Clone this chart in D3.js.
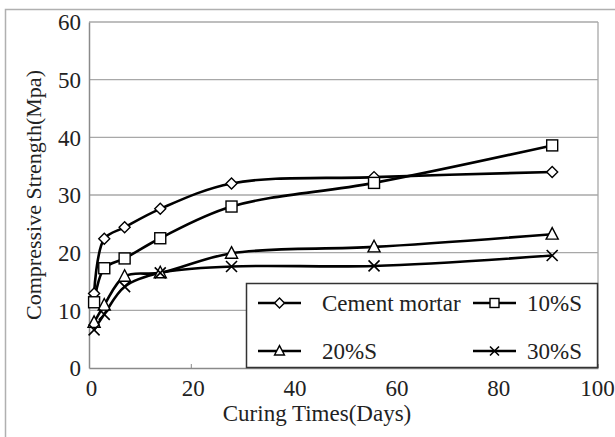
<!DOCTYPE html>
<html>
<head>
<meta charset="utf-8">
<script src="https://cdn.jsdelivr.net/npm/d3@7"></script>
<style>
  body { margin: 0; background: #fff; }
  svg { display: block; font-family: "Liberation Serif", "Times New Roman", serif; }
</style>
</head>
<body>
<svg id="chart"></svg>
<script>
// curing days and strength values (MPa)
const days = [1, 3, 7, 14, 28, 56, 91];
const cementMortar = [12.9, 22.4, 24.4, 27.6, 32.0, 33.1, 34.0];
const s10 = [11.4, 17.3, 19.0, 22.5, 28.0, 32.1, 38.6];
const s20 = [7.9, 10.9, 15.9, 16.5, 19.9, 21.0, 23.2];
const s30 = [6.6, 9.3, 14.1, 16.5, 17.6, 17.7, 19.5];
const seriesNames = ["Cement mortar", "10%S", "20%S", "30%S"];
const markerTypes = ["diamond", "square", "triangle", "cross"];
const xTicks = [0, 20, 40, 60, 80, 100];
const yTicks = [0, 10, 20, 30, 40, 50, 60];

const svgWidth = 615;
const svgHeight = 437;
const margin = { top: 22, right: 17, bottom: 69, left: 89 };
const width = svgWidth - margin.left - margin.right;
const height = svgHeight - margin.top - margin.bottom;

const svg = d3.select("#chart").attr("width", svgWidth).attr("height", svgHeight);

// outer chart frame
svg.append("rect")
  .attr("x", 5.5).attr("y", 9.5)
  .attr("width", 640).attr("height", 460)
  .attr("fill", "none").attr("stroke", "#b0b0b0").attr("stroke-width", 1.5);

const g = svg.append("g").attr("transform", `translate(${margin.left},${margin.top})`);

const xScale = d3.scaleLinear().domain([0, 100]).range([0, width]);
const yScale = d3.scaleLinear().domain([0, 60]).range([height, 0]);

// gridlines
g.selectAll(".grid")
  .data(yTicks.filter((d) => d > 0))
  .enter()
  .append("line")
  .attr("class", "grid")
  .attr("x1", 0).attr("x2", width)
  .attr("y1", (d) => yScale(d)).attr("y2", (d) => yScale(d))
  .attr("stroke", "#a8a8a8").attr("stroke-width", 1.3);

// right border
g.append("line")
  .attr("x1", width).attr("x2", width).attr("y1", 0).attr("y2", height)
  .attr("stroke", "#a8a8a8").attr("stroke-width", 1.3);

// axes
const xAxis = g.append("g")
  .attr("transform", `translate(0,${height})`)
  .call(d3.axisBottom(xScale).tickValues(xTicks).tickSizeInner(-4).tickSizeOuter(0).tickPadding(12));
const yAxis = g.append("g")
  .call(d3.axisLeft(yScale).tickValues(yTicks).tickSize(0).tickPadding(8));

[xAxis, yAxis].forEach((ax) => {
  ax.select(".domain").attr("stroke", "#8a8a8a").attr("stroke-width", 1.5);
  ax.selectAll(".tick line").attr("stroke", "#8a8a8a");
  ax.selectAll("text")
    .attr("font-size", 23)
    .attr("font-family", "Liberation Serif, serif")
    .attr("fill", "#222");
});
xAxis.selectAll("text").attr("dx", (d) => (d === 100 ? -1 : 2));
yAxis.selectAll(".tick text").attr("dy", "0.34em");

// axis titles
svg.append("text")
  .attr("x", 317).attr("y", 421)
  .attr("text-anchor", "middle")
  .attr("font-size", 23).attr("fill", "#222")
  .text("Curing Times(Days)");

svg.append("text")
  .attr("transform", `translate(41,${margin.top + height / 2}) rotate(-90)`)
  .attr("text-anchor", "middle")
  .attr("font-size", 22).attr("fill", "#222")
  .text("Compressive Strength(Mpa)");

// marker drawing
const drawMarker = (sel, type, size) => {
  const s = size;
  if (type === "diamond") {
    sel.append("path")
      .attr("d", `M0,${-s * 0.55}L${s * 0.55},0L0,${s * 0.55}L${-s * 0.55},0Z`)
      .attr("fill", "#fff").attr("stroke", "#000").attr("stroke-width", 1.4);
  } else if (type === "square") {
    sel.append("rect")
      .attr("x", -s / 2).attr("y", -s / 2).attr("width", s).attr("height", s)
      .attr("fill", "#fff").attr("stroke", "#000").attr("stroke-width", 1.4);
  } else if (type === "triangle") {
    sel.append("path")
      .attr("d", `M0,${-s * 0.6}L${s * 0.55},${s * 0.45}L${-s * 0.55},${s * 0.45}Z`)
      .attr("fill", "#fff").attr("stroke", "#000").attr("stroke-width", 1.4);
  } else {
    sel.append("path")
      .attr("d", `M${-s / 2},${-s / 2}L${s / 2},${s / 2}M${s / 2},${-s / 2}L${-s / 2},${s / 2}`)
      .attr("stroke", "#000").attr("stroke-width", 1.6);
  }
};

const seriesData = [cementMortar, s10, s20, s30];

const line = d3.line()
  .x((d) => xScale(d[0]))
  .y((d) => yScale(d[1]))
  .curve(d3.curveCatmullRom.alpha(0.5));

seriesData.forEach((vals, i) => {
  const pts = days.map((d, j) => [d, vals[j]]);
  g.append("path")
    .datum(pts)
    .attr("d", line)
    .attr("fill", "none")
    .attr("stroke", "#000")
    .attr("stroke-width", 2.6);
});

seriesData.forEach((vals, i) => {
  days.forEach((d, j) => {
    const m = g.append("g").attr("transform", `translate(${xScale(d)},${yScale(vals[j])})`);
    drawMarker(m, markerTypes[i], i === 0 ? 10 : 11);
  });
});

// legend
const legend = svg.append("g");
legend.append("rect")
  .attr("x", 246.5).attr("y", 283.5)
  .attr("width", 351).attr("height", 84)
  .attr("fill", "#fff").attr("stroke", "#333").attr("stroke-width", 1.5);

const legendPos = [
  { x: 258, y: 303 },
  { x: 473, y: 303 },
  { x: 258, y: 351 },
  { x: 473, y: 351 },
];
const textX = [322, 527, 322, 527];

seriesNames.forEach((name, i) => {
  const p = legendPos[i];
  legend.append("line")
    .attr("x1", p.x).attr("x2", p.x + 43)
    .attr("y1", p.y).attr("y2", p.y)
    .attr("stroke", "#000").attr("stroke-width", 2.6);
  const m = legend.append("g").attr("transform", `translate(${p.x + 21.5},${p.y})`);
  drawMarker(m, markerTypes[i], 9);
  legend.append("text")
    .attr("x", textX[i]).attr("y", p.y)
    .attr("dy", "0.34em")
    .attr("font-size", 23).attr("fill", "#222")
    .text(name);
});
</script>
</body>
</html>
